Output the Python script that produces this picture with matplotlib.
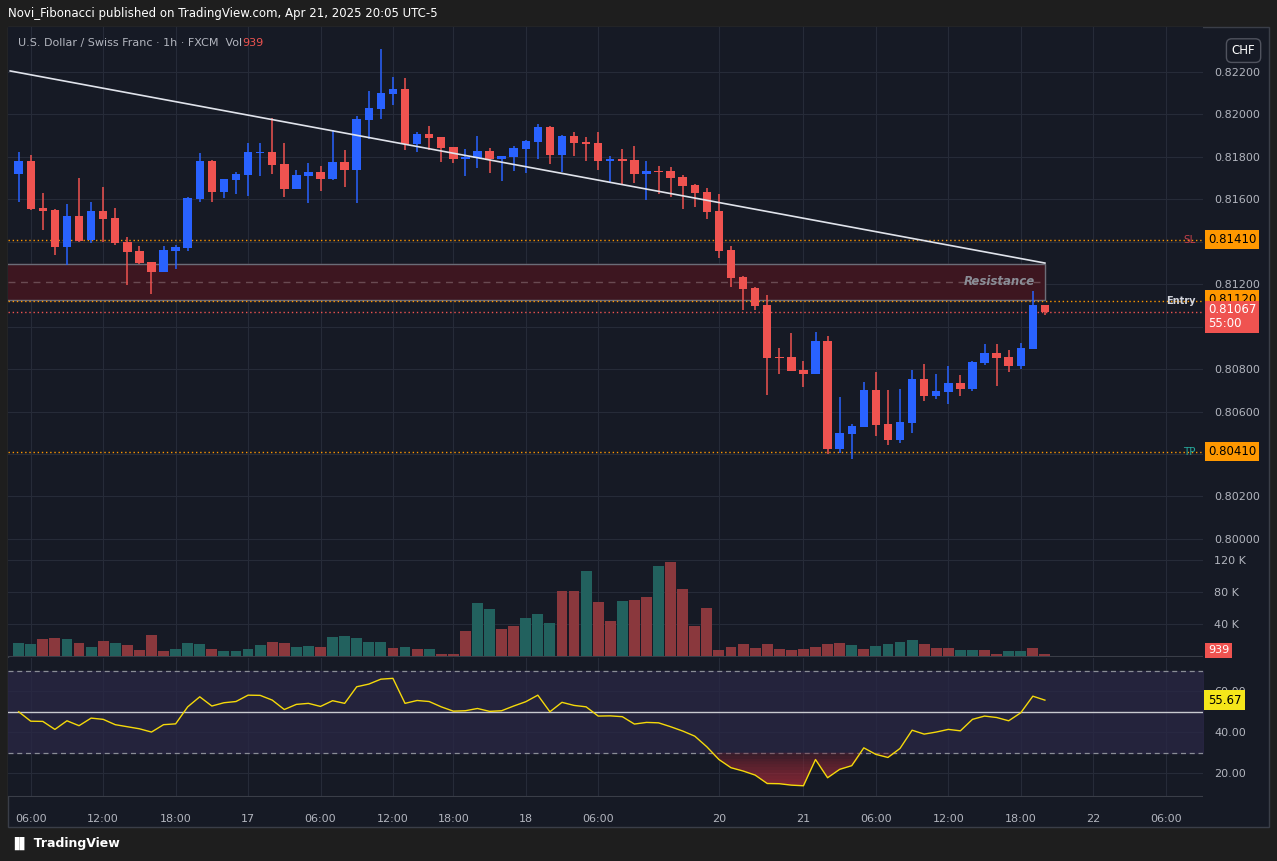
import numpy as np
import matplotlib
matplotlib.use("Agg")
import matplotlib.pyplot as plt
import matplotlib.transforms as mtransforms

# ---- data (USD/CHF 1h, FXCM) ----
opens = [81720, 81781, 81559, 81550, 81376, 81522, 81409, 81545, 81512, 81400,
         81357, 81305, 81258, 81357, 81371, 81602, 81781, 81635, 81691, 81715,
         81818, 81823, 81767, 81649, 81710, 81729, 81696, 81776, 81738, 81974,
         82026, 82096, 82120, 81861, 81908, 81894, 81847, 81790, 81795, 81828,
         81790, 81800, 81837, 81870, 81941, 81809, 81899, 81870, 81866, 81781,
         81790, 81786, 81720, 81734, 81734, 81705, 81668, 81635, 81545, 81362,
         81235, 81183, 81103, 80858, 80858, 80796, 80778, 80933, 80424, 80495,
         80528, 80702, 80542, 80467, 80547, 80754, 80674, 80693, 80735, 80707,
         80829, 80877, 80858, 80815, 80895, 81103]
highs = [81823, 81809, 81630, 81555, 81578, 81700, 81588, 81658, 81559, 81423,
         81380, 81305, 81380, 81385, 81611, 81818, 81786, 81696, 81729, 81866,
         81866, 81983, 81866, 81738, 81771, 81757, 81927, 81833, 81993, 82110,
         82308, 82176, 82172, 81917, 81946, 81894, 81847, 81837, 81899, 81842,
         81804, 81852, 81880, 81955, 81946, 81903, 81917, 81894, 81917, 81804,
         81837, 81852, 81781, 81757, 81752, 81715, 81672, 81654, 81625, 81380,
         81239, 81187, 81150, 80900, 80971, 80839, 80975, 80957, 80669, 80542,
         80740, 80787, 80702, 80707, 80796, 80825, 80778, 80815, 80773, 80839,
         80919, 80919, 80891, 80924, 81169, 81103]
lows = [81588, 81550, 81456, 81338, 81291, 81400, 81395, 81400, 81385, 81197,
        81296, 81154, 81258, 81272, 81357, 81588, 81588, 81607, 81625, 81616,
        81710, 81720, 81611, 81649, 81583, 81640, 81691, 81658, 81583, 81884,
        81979, 82045, 81833, 81823, 81833, 81776, 81771, 81710, 81748, 81724,
        81687, 81734, 81724, 81790, 81767, 81729, 81804, 81781, 81738, 81682,
        81668, 81677, 81597, 81625, 81611, 81555, 81564, 81508, 81324, 81187,
        81079, 81079, 80679, 80778, 80792, 80716, 80778, 80401, 80405, 80377,
        80528, 80486, 80443, 80453, 80500, 80651, 80660, 80636, 80674, 80698,
        80820, 80721, 80787, 80801, 80895, 81056]
closes = [81781, 81555, 81545, 81376, 81522, 81404, 81545, 81508, 81395, 81352,
          81300, 81258, 81362, 81376, 81607, 81781, 81635, 81696, 81720, 81823,
          81823, 81762, 81649, 81715, 81729, 81696, 81776, 81738, 81979, 82030,
          82101, 82120, 81861, 81908, 81889, 81842, 81790, 81800, 81828, 81790,
          81804, 81842, 81875, 81941, 81809, 81899, 81866, 81861, 81781, 81790,
          81781, 81720, 81734, 81729, 81701, 81663, 81630, 81541, 81357, 81230,
          81178, 81098, 80853, 80853, 80792, 80778, 80933, 80424, 80500, 80533,
          80702, 80537, 80467, 80551, 80754, 80674, 80698, 80735, 80707, 80834,
          80877, 80853, 80815, 80900, 81103, 81067]
volumes_k = [16.3, 15, 21, 22.5, 21, 16, 11, 19, 16, 14, 7.5, 26, 6, 9, 16, 15, 9, 6, 6, 9,
             14, 17.5, 16, 11, 12.5, 11, 24, 25, 22.5, 17.5, 17.5, 10, 11, 9, 9, 2.5, 2.5, 31, 66, 59,
             34, 37.5, 47.5, 52.5, 41, 81, 81, 106, 67.5, 44, 69, 70, 74, 112.5, 117.5, 84, 37.5, 60, 7.5, 11,
             15, 10, 15, 9, 7.5, 9, 11, 15, 16, 14, 9, 12.5, 15, 17.5, 20, 15, 10, 10, 7.5, 7.5,
             7.5, 2.5, 6, 6, 10, 2.5]
volume_up = "uuddudududddduuuduuuudduuduuuuudududdduudduuudduddudduddddddddddddddduduuuuddduudduuddduuud"
rsi = [50, 45.4, 45.3, 41.4, 45.6, 43.2, 46.9, 46.3, 43.7, 42.7, 41.7, 40.1, 43.7, 44.1, 52.4,
       57.3, 52.8, 54.4, 55, 58.1, 58, 55.7, 51.1, 53.6, 54.1, 52.6, 55.4, 54.1, 62.2, 63.5,
       65.9, 66.3, 54.1, 55.5, 55, 52.4, 50.3, 50.5, 51.6, 50.2, 50.5, 52.8, 54.9, 58.1, 50,
       54.6, 53.1, 52.4, 47.9, 48, 47.6, 44, 44.8, 44.6, 42.7, 40.6, 38.1, 32.9, 26.7, 22.7,
       21.1, 19.1, 15, 14.9, 14.2, 13.9, 26.7, 17.8, 21.9, 23.7, 32.4, 29.2, 27.7, 32.1, 41,
       39.1, 40.1, 41.4, 40.7, 46.3, 47.9, 47.2, 45.6, 49.5, 57.6, 55.67]
tick_pos = [1, 7, 13, 19, 25, 31, 36, 42, 48, 58, 65, 71, 77, 83, 89, 95]
tick_labels = ["06:00", "12:00", "18:00", "17", "06:00", "12:00", "18:00", "18", "06:00",
               "20", "21", "06:00", "12:00", "18:00", "22", "06:00"]
price_ticks = [0.800, 0.802, 0.804, 0.806, 0.808, 0.810, 0.812, 0.814, 0.816, 0.818, 0.820, 0.822]
hidden_ticks = [0.804, 0.810, 0.814]   # covered by the level boxes
sl, entry, tp, last = 0.81410, 0.81120, 0.80410, 0.81067
zone_lo, zone_hi = 0.81126, 0.81296
trend = ([-0.7, 85], [0.82205, 0.81300])

o = np.array(opens) / 1e5; h = np.array(highs) / 1e5
l = np.array(lows) / 1e5; c = np.array(closes) / 1e5
x = np.arange(len(o))
up = c >= o

BG = "#161a25"; OUTER = "#1e1e1e"; GRID = "#262b38"; TXT = "#b2b5be"
UP = "#2962ff"; DN = "#ef5350"; ORANGE = "#ff9800"
XL = (-0.88, 98.1)

fig = plt.figure(figsize=(12.77, 8.61), dpi=100, facecolor=OUTER)
fig.text(0.006, 0.984, "Novi_Fibonacci published on TradingView.com, Apr 21, 2025 20:05 UTC-5",
         color="white", fontsize=8.5, va="center")
fig.patches.append(plt.Rectangle((0.006, 0.0395), 0.9875, 0.929, transform=fig.transFigure,
                                 facecolor=BG, edgecolor="#3a3e48", lw=1, zorder=-5))
fig.text(0.008, 0.021, "\u2590\u258C TradingView", color="white", fontsize=9, va="center", weight="bold")

ax = fig.add_axes([0.0063, 0.360, 0.9358, 0.6086], facecolor=BG)
axv = fig.add_axes([0.0063, 0.2369, 0.9358, 0.1231], facecolor=BG, sharex=ax)
axr = fig.add_axes([0.0063, 0.0743, 0.9358, 0.1614], facecolor=BG, sharex=ax)

for a in (ax, axv, axr):
    for s in a.spines.values():
        s.set_visible(False)
    a.yaxis.tick_right()
    a.tick_params(length=0, colors=TXT, labelsize=8, pad=8)
    a.grid(True, color=GRID, lw=0.8)
    a.set_axisbelow(True)
    a.set_xticks(tick_pos)
    a.set_xlim(*XL)
ax.tick_params(labelbottom=False); axv.tick_params(labelbottom=False)
axr.set_xticklabels(tick_labels)
axr.tick_params(axis="x", pad=12)
axv.axhline(-1.3, color="#3a3e48", lw=1.5)
axr.axhline(8.4, color="#3a3e48", lw=1.5)

# candles
col = np.where(up, UP, DN)
ax.vlines(x, l, h, colors=col, lw=1.1, zorder=3)
body = np.maximum(np.abs(c - o), 0.000012)
ax.bar(x, body, bottom=np.minimum(o, c), width=0.7, color=col, zorder=4)
ax.set_ylim(0.79943, 0.82412)
ax.set_yticks(price_ticks)
ax.set_yticklabels(["" if any(abs(p - q) < 1e-9 for q in hidden_ticks) else f"{p:.5f}"
                    for p in price_ticks])

# drawings
ax.plot(*trend, color="#e0e3eb", lw=1.2, zorder=5)
ax.fill_between([XL[0], 85], zone_lo, zone_hi, color="#3d1620", zorder=2)
ax.plot([XL[0], 85, 85, XL[0]], [zone_hi, zone_hi, zone_lo, zone_lo], color="#6a6d78", lw=1, zorder=2)
ax.hlines((zone_lo + zone_hi) / 2, XL[0], 85, color="#6a4a52", lw=1, ls=(0, (5, 4)), zorder=2)
ax.text(84.2, (zone_lo + zone_hi) / 2, "Resistance", color="#8a8d96", fontsize=8.5,
        style="italic", weight="bold", ha="right", va="center", zorder=6)
for lvl in (sl, entry, tp):
    ax.axhline(lvl, color=ORANGE, lw=1, ls=(0, (1, 2)), zorder=2)
ax.axhline(last, color=DN, lw=1, ls=(0, (1, 2)), zorder=2)
tr = mtransforms.blended_transform_factory(ax.transAxes, ax.transData)
ax.text(0.9935, sl, "SL", color="#c2404a", fontsize=7.5, ha="right", va="center", transform=tr)
ax.text(0.9935, entry, "Entry", color="#d1d4dc", fontsize=7, weight="bold", ha="right", va="center", transform=tr)
ax.text(0.9935, tp, "TP", color="#26a69a", fontsize=7.5, ha="right", va="center", transform=tr)
box_y = {sl: sl, entry: entry + 0.00009, tp: tp}
for lvl in (sl, entry, tp):
    ax.text(1.004, box_y[lvl], f"{lvl:.5f}", color="black", fontsize=8.5, va="center", transform=tr,
            bbox=dict(boxstyle="square,pad=0.25", fc=ORANGE, ec="none"), zorder=10, clip_on=False)
ax.text(1.004, last - 0.00020, f"{last:.5f}\n55:00", color="white", fontsize=8.5, va="center",
        linespacing=1.05, transform=tr,
        bbox=dict(boxstyle="square,pad=0.25", fc=DN, ec="none"), zorder=10, clip_on=False)
t1 = ax.text(0.0085, 0.97, "U.S. Dollar / Swiss Franc \u00b7 1h \u00b7 FXCM  Vol", color=TXT, fontsize=8,
             transform=ax.transAxes, va="center")
fig.canvas.draw()
bb = t1.get_window_extent().transformed(ax.transAxes.inverted())
ax.text(bb.x1, 0.97, "939", color=DN, fontsize=8, transform=ax.transAxes, va="center")
ax.text(1.024, 0.955, "CHF", color="white", fontsize=8.5, transform=ax.transAxes, va="center",
        bbox=dict(boxstyle="round,pad=0.45", fc=BG, ec="#50535e"), clip_on=False)

# volume
vcol = ["#22615e" if v == "u" else "#8a383d" for v in volume_up]
axv.bar(x, volumes_k, width=0.9, color=vcol, zorder=3)
axv.set_ylim(-1.3, 131)
axv.set_yticks([40, 80, 120])
axv.set_yticklabels(["40 K", "80 K", "120 K"])
axv.text(1.004, 7, "939", color="white", fontsize=8, va="center",
         transform=mtransforms.blended_transform_factory(axv.transAxes, axv.transData),
         bbox=dict(boxstyle="square,pad=0.25", fc=DN, ec="none"), clip_on=False)

# RSI
axr.fill_between(XL, 30, 70, color="#2a2745", alpha=0.75, zorder=1)
for lv in (70, 30):
    axr.axhline(lv, color="#8a8d96", lw=0.9, ls=(0, (4, 3)), zorder=2)
axr.axhline(50, color="#c8cad0", lw=1, zorder=2)
r = np.array(rsi)
for k in range(12):
    lvl = 30 - k * 1.4
    axr.fill_between(x, np.minimum(r, 30), lvl, where=r < lvl, interpolate=True,
                     color="#d03a48", alpha=0.09, lw=0, zorder=2)
axr.fill_between(x, r, 30, where=r < 30, interpolate=True, color="#5a1d2a", alpha=0.35, lw=0, zorder=2)
axr.plot(x, r, color="#f5d90a", lw=1, zorder=4)
axr.set_ylim(8.4, 76.2)
axr.set_yticks([20, 40, 60])
axr.set_yticklabels(["20.00", "40.00", "60.00"])
axr.text(1.004, r[-1], f"{r[-1]:.2f}", color="black", fontsize=8.5, va="center",
         transform=mtransforms.blended_transform_factory(axr.transAxes, axr.transData),
         bbox=dict(boxstyle="square,pad=0.3", fc="#f5e61a", ec="none"), clip_on=False, zorder=10)

fig.savefig("out.png", dpi=100, facecolor=OUTER)
